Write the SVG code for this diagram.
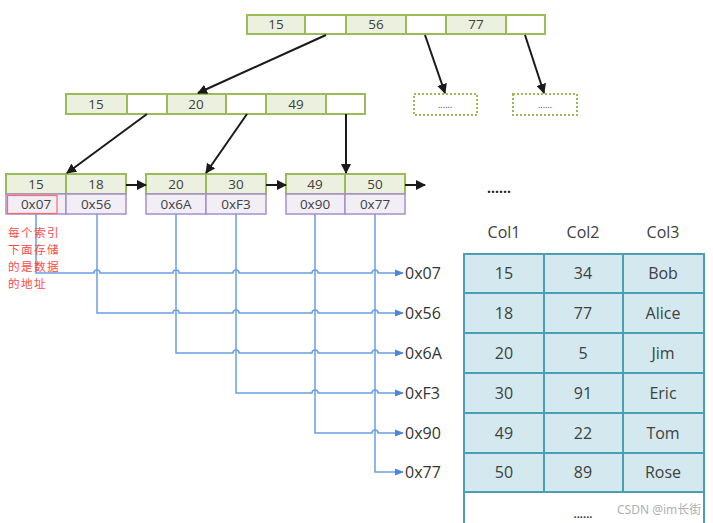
<svg xmlns="http://www.w3.org/2000/svg" width="713" height="523" viewBox="0 0 713 523">
<defs>
<marker id="ah" viewBox="0 0 10 10" refX="9" refY="5" markerWidth="5" markerHeight="5" orient="auto" markerUnits="strokeWidth"><path d="M0,0 L10,5 L0,10 Z" fill="#1a1a1a"/></marker>
<marker id="bh" viewBox="0 0 10 10" refX="9" refY="5" markerWidth="6" markerHeight="6" orient="auto" markerUnits="strokeWidth"><path d="M0,1 L10,5 L0,9 Z" fill="#4a86e0"/></marker>
<style>
.k{fill:#ebf1de;stroke:#9bbb59;stroke-width:2}
.w{fill:#fff;stroke:#9bbb59;stroke-width:2}
.a{fill:#f1eef5;stroke:#a98fcc;stroke-width:1.5}
.d{fill:#fff;stroke:#9bbb59;stroke-width:2;stroke-dasharray:2 2}
.t{font-family:"Open Sans","Noto Sans",sans-serif;font-size:13.5px;fill:#404040;text-anchor:middle}
.lb{font-family:"Open Sans","Noto Sans",sans-serif;font-size:16px;fill:#333;}
.tc{fill:#d4e9ef;stroke:#4b9fb3;stroke-width:2}
.tt{font-family:"Open Sans","Noto Sans",sans-serif;font-size:16px;fill:#404040;text-anchor:middle}
.bk{stroke:#1a1a1a;stroke-width:2;fill:none;marker-end:url(#ah)}
.bla{stroke:#6a9ee6;stroke-width:1.5;fill:none;marker-end:url(#bh)}
.red{font-family:"Noto Sans CJK SC",sans-serif;font-size:11.6px;letter-spacing:1.4px;fill:#ff4a4a}
</style>
</defs>
<rect width="713" height="523" fill="#fff"/>

<g id="root">
<rect class="k" x="247" y="15" width="58" height="19"/>
<rect class="w" x="305" y="15" width="41" height="19"/>
<rect class="k" x="346" y="15" width="60" height="19"/>
<rect class="w" x="406" y="15" width="40" height="19"/>
<rect class="k" x="446" y="15" width="60" height="19"/>
<rect class="w" x="506" y="15" width="39" height="19"/>
<text class="t" x="276" y="29">15</text>
<text class="t" x="376" y="29">56</text>
<text class="t" x="476" y="29">77</text>
</g>

<g id="inner">
<rect class="k" x="66" y="94" width="61" height="20"/>
<rect class="w" x="127" y="94" width="40" height="20"/>
<rect class="k" x="167" y="94" width="59" height="20"/>
<rect class="w" x="226" y="94" width="40" height="20"/>
<rect class="k" x="266" y="94" width="60" height="20"/>
<rect class="w" x="326" y="94" width="39" height="20"/>
<text class="t" x="96" y="109">15</text>
<text class="t" x="196" y="109">20</text>
<text class="t" x="296" y="109">49</text>
</g>

<g id="more1">
<rect class="d" x="414" y="94" width="63" height="21"/>
<text class="t" x="445" y="108" style="font-size:9px">......</text>
</g>
<g id="more2">
<rect class="d" x="513" y="94" width="64" height="21"/>
<text class="t" x="545" y="108" style="font-size:9px">......</text>
</g>

<g id="leaf1">
<rect class="k" x="6" y="174" width="60" height="20"/>
<rect class="k" x="66" y="174" width="60" height="20"/>
<rect class="a" x="6" y="194" width="60" height="20"/>
<rect class="a" x="66" y="194" width="60" height="20"/>
<rect x="7.5" y="195.5" width="49.5" height="18" fill="none" stroke="#ff6b6b" stroke-width="1.2"/>
<text class="t" x="36" y="189">15</text>
<text class="t" x="96" y="189">18</text>
<text class="t" x="36" y="209">0x07</text>
<text class="t" x="96" y="209">0x56</text>
</g>
<g id="leaf2">
<rect class="k" x="146" y="174" width="60" height="20"/>
<rect class="k" x="206" y="174" width="60" height="20"/>
<rect class="a" x="146" y="194" width="60" height="20"/>
<rect class="a" x="206" y="194" width="60" height="20"/>
<text class="t" x="176" y="189">20</text>
<text class="t" x="236" y="189">30</text>
<text class="t" x="176" y="209">0x6A</text>
<text class="t" x="236" y="209">0xF3</text>
</g>
<g id="leaf3">
<rect class="k" x="286" y="174" width="59" height="20"/>
<rect class="k" x="345" y="174" width="60" height="20"/>
<rect class="a" x="286" y="194" width="59" height="20"/>
<rect class="a" x="345" y="194" width="60" height="20"/>
<text class="t" x="315" y="189">49</text>
<text class="t" x="375" y="189">50</text>
<text class="t" x="315" y="209">0x90</text>
<text class="t" x="375" y="209">0x77</text>
</g>

<g id="connectors">
<line class="bk" x1="326" y1="35" x2="198" y2="93"/>
<line class="bk" x1="425" y1="35" x2="445" y2="93"/>
<line class="bk" x1="525" y1="35" x2="544" y2="93"/>
<line class="bk" x1="147" y1="114" x2="67" y2="173"/>
<line class="bk" x1="247" y1="114" x2="206" y2="173"/>
<line class="bk" x1="346" y1="114" x2="346" y2="173"/>
<line class="bk" x1="126" y1="185" x2="146" y2="185"/>
<line class="bk" x1="266" y1="185" x2="286" y2="185"/>
<line class="bk" x1="405" y1="185" x2="425" y2="185"/>

<path class="bla" d="M36,214 V273 H94 a3,3 0 0 1 6,0 H173 a3,3 0 0 1 6,0 H233 a3,3 0 0 1 6,0 H312 a3,3 0 0 1 6,0 H372 a3,3 0 0 1 6,0 H403"/>
<path class="bla" d="M97,214 V313 H173 a3,3 0 0 1 6,0 H233 a3,3 0 0 1 6,0 H312 a3,3 0 0 1 6,0 H372 a3,3 0 0 1 6,0 H403"/>
<path class="bla" d="M176,214 V353 H233 a3,3 0 0 1 6,0 H312 a3,3 0 0 1 6,0 H372 a3,3 0 0 1 6,0 H403"/>
<path class="bla" d="M236,214 V393 H312 a3,3 0 0 1 6,0 H372 a3,3 0 0 1 6,0 H403"/>
<path class="bla" d="M315,214 V433 H372 a3,3 0 0 1 6,0 H403"/>
<path class="bla" d="M375,214 V472 H403"/>
</g>

<g id="addr-labels">
<text class="lb" x="405" y="279">0x07</text>
<text class="lb" x="405" y="319">0x56</text>
<text class="lb" x="405" y="359">0x6A</text>
<text class="lb" x="405" y="399">0xF3</text>
<text class="lb" x="405" y="439">0x90</text>
<text class="lb" x="405" y="478">0x77</text>
</g>

<g id="note">
<text class="red" x="8" y="237">每个索引</text>
<text class="red" x="8" y="254">下面存储</text>
<text class="red" x="8" y="271">的是数据</text>
<text class="red" x="8" y="288">的地址</text>
</g>

<text x="499" y="193" style="font-family:'Open Sans',sans-serif;font-size:14px;fill:#222;text-anchor:middle;font-weight:bold">......</text>

<g id="table">
<text class="tt" x="504" y="238">Col1</text>
<text class="tt" x="583" y="238">Col2</text>
<text class="tt" x="663" y="238">Col3</text>
<rect x="464" y="492" width="240" height="40" fill="#fff" stroke="#4b9fb3" stroke-width="2"/>
<g>
<rect class="tc" x="464" y="254" width="80" height="39"/><rect class="tc" x="544" y="254" width="79" height="39"/><rect class="tc" x="623" y="254" width="81" height="39"/>
<rect class="tc" x="464" y="293" width="80" height="40"/><rect class="tc" x="544" y="293" width="79" height="40"/><rect class="tc" x="623" y="293" width="81" height="40"/>
<rect class="tc" x="464" y="333" width="80" height="40"/><rect class="tc" x="544" y="333" width="79" height="40"/><rect class="tc" x="623" y="333" width="81" height="40"/>
<rect class="tc" x="464" y="373" width="80" height="40"/><rect class="tc" x="544" y="373" width="79" height="40"/><rect class="tc" x="623" y="373" width="81" height="40"/>
<rect class="tc" x="464" y="413" width="80" height="40"/><rect class="tc" x="544" y="413" width="79" height="40"/><rect class="tc" x="623" y="413" width="81" height="40"/>
<rect class="tc" x="464" y="453" width="80" height="39"/><rect class="tc" x="544" y="453" width="79" height="39"/><rect class="tc" x="623" y="453" width="81" height="39"/>
</g>
<text class="tt" x="504" y="279">15</text><text class="tt" x="583" y="279">34</text><text class="tt" x="663" y="279">Bob</text>
<text class="tt" x="504" y="319">18</text><text class="tt" x="583" y="319">77</text><text class="tt" x="663" y="319">Alice</text>
<text class="tt" x="504" y="359">20</text><text class="tt" x="583" y="359">5</text><text class="tt" x="663" y="359">Jim</text>
<text class="tt" x="504" y="399">30</text><text class="tt" x="583" y="399">91</text><text class="tt" x="663" y="399">Eric</text>
<text class="tt" x="504" y="439">49</text><text class="tt" x="583" y="439">22</text><text class="tt" x="663" y="439">Tom</text>
<text class="tt" x="504" y="478">50</text><text class="tt" x="583" y="478">89</text><text class="tt" x="663" y="478">Rose</text>
<text x="583" y="518" style="font-family:'Open Sans',sans-serif;font-size:11px;fill:#333;text-anchor:middle;font-weight:bold">......</text>
</g>
<text x="617" y="514" style="font-family:'Noto Sans','Noto Sans CJK SC',sans-serif;font-size:12px;fill:#b0b0b0">CSDN @im长街</text>
</svg>
